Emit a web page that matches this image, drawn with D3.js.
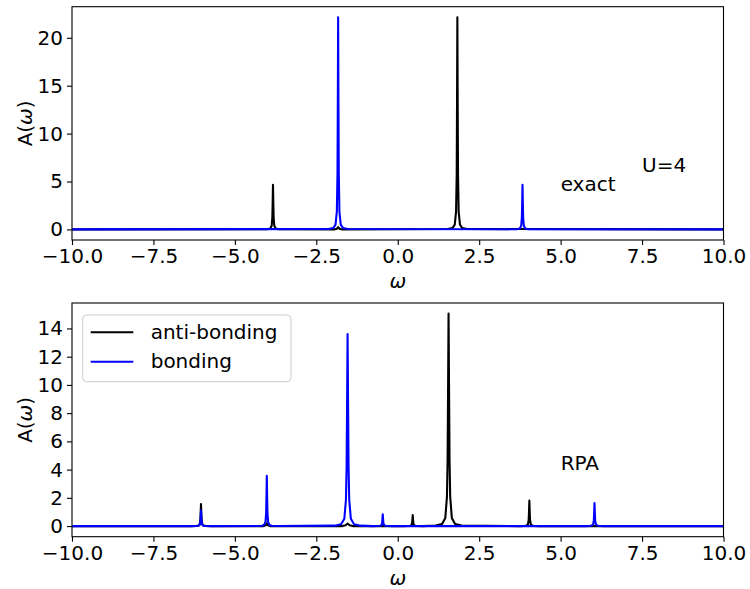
<!DOCTYPE html>
<html>
<head>
<meta charset="utf-8">
<script src="https://cdn.jsdelivr.net/npm/d3@7"></script>
<style>
  html, body { margin: 0; padding: 0; background: #fff; }
  svg { display: block; font-family: "DejaVu Sans", sans-serif; }
</style>
</head>
<body>
<svg id="chart" width="750" height="589"></svg>
<script>
// ---------------- data ----------------
const seriesNames = ["anti-bonding", "bonding"];
const seriesColors = ["#000000", "#0000ff"];
const xTicks = [-10, -7.5, -5, -2.5, 0, 2.5, 5, 7.5, 10];
const topYTicks = [0, 5, 10, 15, 20];
const bottomYTicks = [0, 2, 4, 6, 8, 10, 12, 14];
const panelNotes = [["exact", 5, 4], ["U=4", 7.5, 6]];
const bottomNotes = [["RPA", 5, 4]];

// exact, anti-bonding
const exactAntiOmega = [-10,
  -4.13,-3.98,-3.91,-3.87,-3.85,-3.84,-3.83,-3.82,-3.81,-3.79,-3.75,-3.68,-3.53,
  -1.96,-1.89,-1.86,-1.83,-1.80,-1.77,-1.70,
  1.53,1.68,1.75,1.79,1.81,1.82,1.83,1.84,1.85,1.87,1.91,1.98,2.13,
  10];
const exactAntiA = [0,
  0.01,0.03,0.10,0.39,1.21,2.74,4.65,2.74,1.21,0.39,0.10,0.03,0.01,
  0,0.04,0.1,0.25,0.1,0.04,0,
  0.04,0.14,0.49,1.84,5.76,13.06,22.14,13.06,5.76,1.84,0.49,0.14,0.04,
  0];
// exact, bonding
const exactBondOmega = [-10,
  -2.13,-1.98,-1.91,-1.87,-1.85,-1.84,-1.83,-1.82,-1.81,-1.79,-1.75,-1.68,-1.53,
  3.53,3.68,3.75,3.79,3.81,3.82,3.83,3.84,3.85,3.87,3.91,3.98,4.13,
  10];
const exactBondA = [0,
  0.04,0.14,0.49,1.84,5.76,13.06,22.14,13.06,5.76,1.84,0.49,0.14,0.04,
  0.01,0.03,0.10,0.39,1.21,2.74,4.65,2.74,1.21,0.39,0.10,0.03,0.01,
  0];
// RPA, anti-bonding
const rpaAntiOmega = [-10,
  -6.34,-6.19,-6.12,-6.08,-6.06,-6.05,-6.04,-6.03,-6.02,-6.00,-5.96,-5.89,-5.74,
  -4.12,-4.05,-4.02,-3.99,-3.92,
  -1.70,-1.60,-1.54,-1.48,-1.38,
  0.16,0.31,0.38,0.42,0.44,0.45,0.46,0.47,0.48,0.50,0.54,0.61,0.76,
  1.16,1.36,1.46,1.51,1.53,1.545,1.56,1.575,1.59,1.61,1.66,1.76,1.96,
  3.74,3.89,3.96,4.00,4.02,4.03,4.04,4.05,4.06,4.08,4.12,4.19,4.34,
  10];
const rpaAntiA = [0,
  0,0.01,0.03,0.13,0.41,0.92,1.56,0.92,0.41,0.13,0.03,0.01,0,
  0,0.05,0.2,0.05,0,
  0,0.06,0.18,0.06,0,
  0,0.005,0.02,0.06,0.20,0.46,0.78,0.46,0.20,0.06,0.02,0.005,0,
  0.04,0.15,0.58,2.08,4.63,9.63,15.05,9.63,4.63,2.08,0.58,0.15,0.04,
  0,0.01,0.04,0.15,0.47,1.06,1.80,1.06,0.47,0.15,0.04,0.01,0,
  0];
// RPA, bonding
const rpaBondOmega = [-10,
  -6.34,-6.19,-6.12,-6.08,-6.06,-6.05,-6.04,-6.03,-6.02,-6.00,-5.96,-5.89,-5.74,
  -4.32,-4.17,-4.10,-4.06,-4.04,-4.03,-4.02,-4.01,-4.00,-3.98,-3.94,-3.87,-3.72,
  -1.94,-1.74,-1.64,-1.59,-1.57,-1.555,-1.54,-1.525,-1.51,-1.49,-1.44,-1.34,-1.14,
  -0.76,-0.61,-0.54,-0.50,-0.48,-0.47,-0.46,-0.45,-0.44,-0.42,-0.38,-0.31,-0.16,
  5.74,5.89,5.96,6.00,6.02,6.03,6.04,6.05,6.06,6.08,6.12,6.19,6.34,
  10];
const rpaBondA = [0,
  0,0.01,0.02,0.09,0.29,0.65,1.10,0.65,0.29,0.09,0.02,0.01,0,
  0.01,0.02,0.08,0.30,0.93,2.11,3.57,2.11,0.93,0.30,0.08,0.02,0.01,
  0.03,0.13,0.52,1.88,4.19,8.70,13.6,8.70,4.19,1.88,0.52,0.13,0.03,
  0,0.005,0.02,0.07,0.22,0.49,0.83,0.49,0.22,0.07,0.02,0.005,0,
  0,0.01,0.04,0.14,0.42,0.96,1.63,0.96,0.42,0.14,0.04,0.01,0,
  0];

// ---------------- drawing ----------------
const svg = d3.select("#chart");
const FONT = 20;
const left = 72, right = 723.5;

const panels = [
  { top: 6.7, bottom: 240, yDomain: [-1.107, 23.247], yTicks: topYTicks,
    series: [[exactAntiOmega, exactAntiA], [exactBondOmega, exactBondA]],
    notes: panelNotes, legend: false },
  { top: 303, bottom: 536.7, yDomain: [-0.7525, 15.8025], yTicks: bottomYTicks,
    series: [[rpaAntiOmega, rpaAntiA], [rpaBondOmega, rpaBondA]],
    notes: bottomNotes, legend: true }
];

const xFmt = d3.format(".1f");

panels.forEach((p, pi) => {
  const x = d3.scaleLinear().domain([-10, 10]).range([left, right]);
  const y = d3.scaleLinear().domain(p.yDomain).range([p.bottom, p.top]);
  const g = svg.append("g");

  const clipId = "clip" + pi;
  svg.append("clipPath").attr("id", clipId)
    .append("rect").attr("x", left).attr("y", p.top)
    .attr("width", right - left).attr("height", p.bottom - p.top);

  const line = d3.line().x(d => x(d[0])).y(d => y(d[1]));
  const plot = g.append("g").attr("clip-path", `url(#${clipId})`);
  p.series.forEach((s, si) => {
    const pts = s[0].map((w, i) => [w, s[1][i]]);
    plot.append("path").datum(pts)
      .attr("d", line)
      .attr("fill", "none")
      .attr("stroke", seriesColors[si])
      .attr("stroke-width", 2.1)
      .attr("stroke-linejoin", "round");
  });

  // axes
  const xAxis = d3.axisBottom(x).tickValues(xTicks).tickFormat(xFmt)
    .tickSize(5).tickPadding(4);
  const gx = g.append("g").attr("transform", `translate(0,${p.bottom})`).call(xAxis);
  const yAxis = d3.axisLeft(y).tickValues(p.yTicks).tickFormat(d3.format("d"))
    .tickSize(5).tickPadding(4);
  const gy = g.append("g").attr("transform", `translate(${left},0)`).call(yAxis);
  [gx, gy].forEach(a => {
    a.select(".domain").remove();
    a.selectAll(".tick line").attr("stroke", "#000").attr("stroke-width", 1.1);
    a.selectAll(".tick text").attr("fill", "#000")
      .style("font-size", FONT + "px").style("font-family", "DejaVu Sans");
  });

  // frame
  g.append("rect").attr("x", left).attr("y", p.top)
    .attr("width", right - left).attr("height", p.bottom - p.top)
    .attr("fill", "none").attr("stroke", "#000").attr("stroke-width", 1.1);

  // axis labels
  g.append("text").attr("x", (left + right) / 2).attr("y", p.bottom + 48)
    .attr("text-anchor", "middle").style("font-size", FONT + "px")
    .style("font-style", "italic").text("ω");
  const yl = g.append("text")
    .attr("transform", `translate(32,${(p.top + p.bottom) / 2}) rotate(-90)`)
    .attr("text-anchor", "middle").style("font-size", FONT + "px");
  yl.append("tspan").text("A(");
  yl.append("tspan").style("font-style", "italic").text("ω");
  yl.append("tspan").text(")");

  // notes
  p.notes.forEach(n => {
    g.append("text").attr("x", x(n[1])).attr("y", y(n[2]))
      .style("font-size", FONT + "px").text(n[0]);
  });

  // legend
  if (p.legend) {
    const lg = g.append("g");
    lg.append("rect").attr("x", 82.7).attr("y", 315).attr("width", 208.3).attr("height", 66.7)
      .attr("rx", 4).attr("fill", "#fff").attr("fill-opacity", 0.8)
      .attr("stroke", "#cccccc").attr("stroke-width", 1);
    seriesNames.forEach((name, i) => {
      const ly = 332.3 + i * 29.4;
      lg.append("line").attr("x1", 90.7).attr("x2", 133.3).attr("y1", ly).attr("y2", ly)
        .attr("stroke", seriesColors[i]).attr("stroke-width", 2.1);
      lg.append("text").attr("x", 150.7).attr("y", ly + 6.5)
        .style("font-size", FONT + "px").text(name);
    });
  }
});
</script>
</body>
</html>
